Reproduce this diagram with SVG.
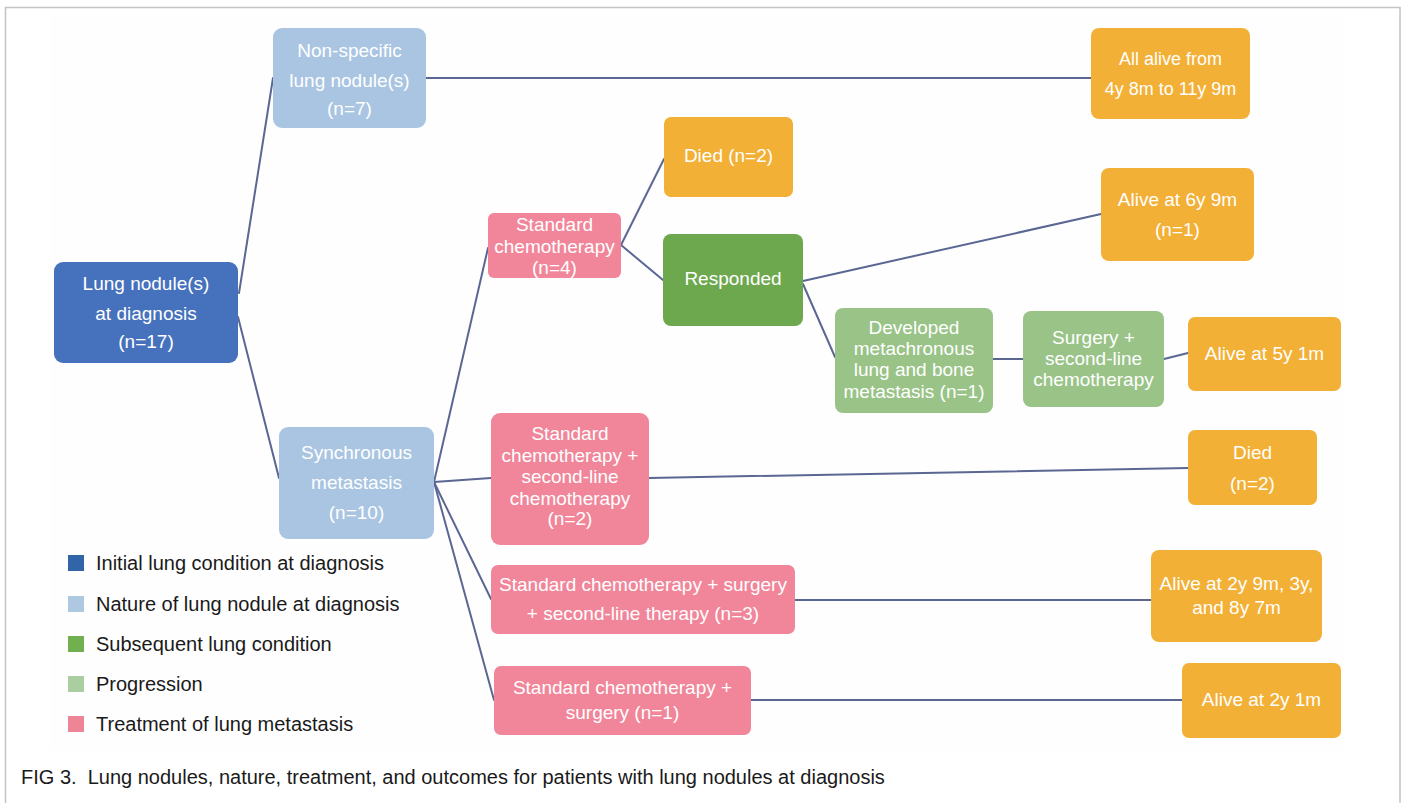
<svg xmlns="http://www.w3.org/2000/svg" width="1405" height="803" viewBox="0 0 1405 803">
<style>
  .node text { font-family: "Liberation Sans", Arial, sans-serif; font-size: 19px; fill: #ffffff; text-anchor: middle; }
  .c-init { fill: #4671bd; }
  .c-nature { fill: #a9c5e2; }
  .c-sub { fill: #6ea84e; }
  .c-prog { fill: #99c387; }
  .c-treat { fill: #f1869a; }
  .c-out { fill: #f3b036; }
  .conn line { stroke: #5b6793; stroke-width: 2; stroke-linecap: round; }
  .legend text { font-family: "Liberation Sans", Arial, sans-serif; font-size: 20px; fill: #1a1a1a; }
  .caption { font-family: "Liberation Sans", Arial, sans-serif; font-size: 20px; fill: #1a1a1a; }
</style>
<rect x="0" y="0" width="1405" height="803" fill="#ffffff"/>
<rect x="50" y="12" width="1295" height="738" fill="#fefeff"/>
<path d="M5.5 803 V7.5 H1400 V803" fill="none" stroke="#c4c4c4" stroke-width="1.5"/>

<g id="connectors" class="conn">
  <line x1="239" y1="293" x2="273" y2="78"/>
  <line x1="238" y1="317" x2="279" y2="478"/>
  <line x1="426" y1="78" x2="1091" y2="78"/>
  <line x1="434" y1="482" x2="488" y2="248"/>
  <line x1="434" y1="482" x2="491" y2="478"/>
  <line x1="434" y1="482" x2="491" y2="599"/>
  <line x1="434" y1="482" x2="494" y2="700"/>
  <line x1="621" y1="245" x2="664" y2="159"/>
  <line x1="621" y1="245" x2="663" y2="280"/>
  <line x1="803" y1="281" x2="1101" y2="214"/>
  <line x1="803" y1="284" x2="835" y2="357"/>
  <line x1="993" y1="359" x2="1023" y2="359"/>
  <line x1="1164" y1="359" x2="1188" y2="353"/>
  <line x1="649" y1="478" x2="1188" y2="468"/>
  <line x1="795" y1="600" x2="1151" y2="600"/>
  <line x1="751" y1="700" x2="1182" y2="700"/>
</g>

<g id="n-lung" class="node">
  <rect class="c-init" x="54" y="262" width="184" height="101" rx="9"/>
  <text x="146" y="290">Lung nodule(s)</text>
  <text x="146" y="320">at diagnosis</text>
  <text x="146" y="348">(n=17)</text>
</g>
<g id="n-nonspecific" class="node">
  <rect class="c-nature" x="273" y="28" width="153" height="100" rx="9"/>
  <text x="349.5" y="57">Non-specific</text>
  <text x="349.5" y="87">lung nodule(s)</text>
  <text x="349.5" y="115">(n=7)</text>
</g>
<g id="n-synchronous" class="node">
  <rect class="c-nature" x="279" y="427" width="155" height="112" rx="9"/>
  <text x="356.5" y="459">Synchronous</text>
  <text x="356.5" y="489">metastasis</text>
  <text x="356.5" y="519">(n=10)</text>
</g>
<g id="n-stdchemo" class="node">
  <rect class="c-treat" x="488" y="213" width="133" height="65" rx="6"/>
  <text x="554.5" y="231">Standard</text>
  <text x="554.5" y="253">chemotherapy</text>
  <text x="554.5" y="274">(n=4)</text>
</g>
<g id="n-died1" class="node">
  <rect class="c-out" x="664" y="117" width="129" height="80" rx="7"/>
  <text x="728.5" y="162">Died (n=2)</text>
</g>
<g id="n-responded" class="node">
  <rect class="c-sub" x="663" y="234" width="140" height="92" rx="8"/>
  <text x="733" y="285">Responded</text>
</g>
<g id="n-developed" class="node">
  <rect class="c-prog" x="835" y="308" width="158" height="105" rx="8"/>
  <text x="914" y="334">Developed</text>
  <text x="914" y="355">metachronous</text>
  <text x="914" y="376">lung and bone</text>
  <text x="914" y="398">metastasis (n=1)</text>
</g>
<g id="n-surgery2" class="node">
  <rect class="c-prog" x="1023" y="311" width="141" height="96" rx="8"/>
  <text x="1093.5" y="344">Surgery +</text>
  <text x="1093.5" y="365">second-line</text>
  <text x="1093.5" y="386">chemotherapy</text>
</g>
<g id="n-alive5y" class="node">
  <rect class="c-out" x="1188" y="317" width="153" height="74" rx="7"/>
  <text x="1264.5" y="360">Alive at 5y 1m</text>
</g>
<g id="n-allalive" class="node">
  <rect class="c-out" x="1091" y="28" width="159" height="91" rx="8"/>
  <text x="1170.5" y="65" style="font-size:18px">All alive from</text>
  <text x="1170.5" y="95" style="font-size:18px">4y 8m to 11y 9m</text>
</g>
<g id="n-alive6y" class="node">
  <rect class="c-out" x="1101" y="168" width="153" height="93" rx="8"/>
  <text x="1177.5" y="206">Alive at 6y 9m</text>
  <text x="1177.5" y="236">(n=1)</text>
</g>
<g id="n-std2nd" class="node">
  <rect class="c-treat" x="491" y="413" width="158" height="132" rx="9"/>
  <text x="570" y="440">Standard</text>
  <text x="570" y="462">chemotherapy +</text>
  <text x="570" y="483">second-line</text>
  <text x="570" y="505">chemotherapy</text>
  <text x="570" y="525">(n=2)</text>
</g>
<g id="n-died2" class="node">
  <rect class="c-out" x="1188" y="430" width="129" height="75" rx="7"/>
  <text x="1252.5" y="459">Died</text>
  <text x="1252.5" y="490">(n=2)</text>
</g>
<g id="n-stdsurg2nd" class="node">
  <rect class="c-treat" x="491" y="565" width="304" height="69" rx="7"/>
  <text x="643" y="591">Standard chemotherapy + surgery</text>
  <text x="643" y="620">+ second-line therapy (n=3)</text>
</g>
<g id="n-alive2y9m" class="node">
  <rect class="c-out" x="1151" y="550" width="171" height="92" rx="8"/>
  <text x="1236.5" y="590">Alive at 2y 9m, 3y,</text>
  <text x="1236.5" y="614">and 8y 7m</text>
</g>
<g id="n-stdsurg" class="node">
  <rect class="c-treat" x="494" y="666" width="257" height="69" rx="7"/>
  <text x="622.5" y="694">Standard chemotherapy +</text>
  <text x="622.5" y="719">surgery (n=1)</text>
</g>
<g id="n-alive2y1m" class="node">
  <rect class="c-out" x="1182" y="663" width="159" height="75" rx="7"/>
  <text x="1261.5" y="706">Alive at 2y 1m</text>
</g>

<g id="legend" class="legend">
  <rect x="68" y="555" width="16" height="16" fill="#3165a8"/>
  <text x="96" y="570">Initial lung condition at diagnosis</text>
  <rect x="68" y="596" width="16" height="16" fill="#afc8e1"/>
  <text x="96" y="611">Nature of lung nodule at diagnosis</text>
  <rect x="68" y="636" width="16" height="16" fill="#72b04f"/>
  <text x="96" y="651">Subsequent lung condition</text>
  <rect x="68" y="676" width="16" height="16" fill="#abcea0"/>
  <text x="96" y="691">Progression</text>
  <rect x="68" y="716" width="16" height="16" fill="#ee8597"/>
  <text x="96" y="731">Treatment of lung metastasis</text>
</g>

<text class="caption" x="21" y="784" xml:space="preserve">FIG 3.  Lung nodules, nature, treatment, and outcomes for patients with lung nodules at diagnosis</text>
</svg>
